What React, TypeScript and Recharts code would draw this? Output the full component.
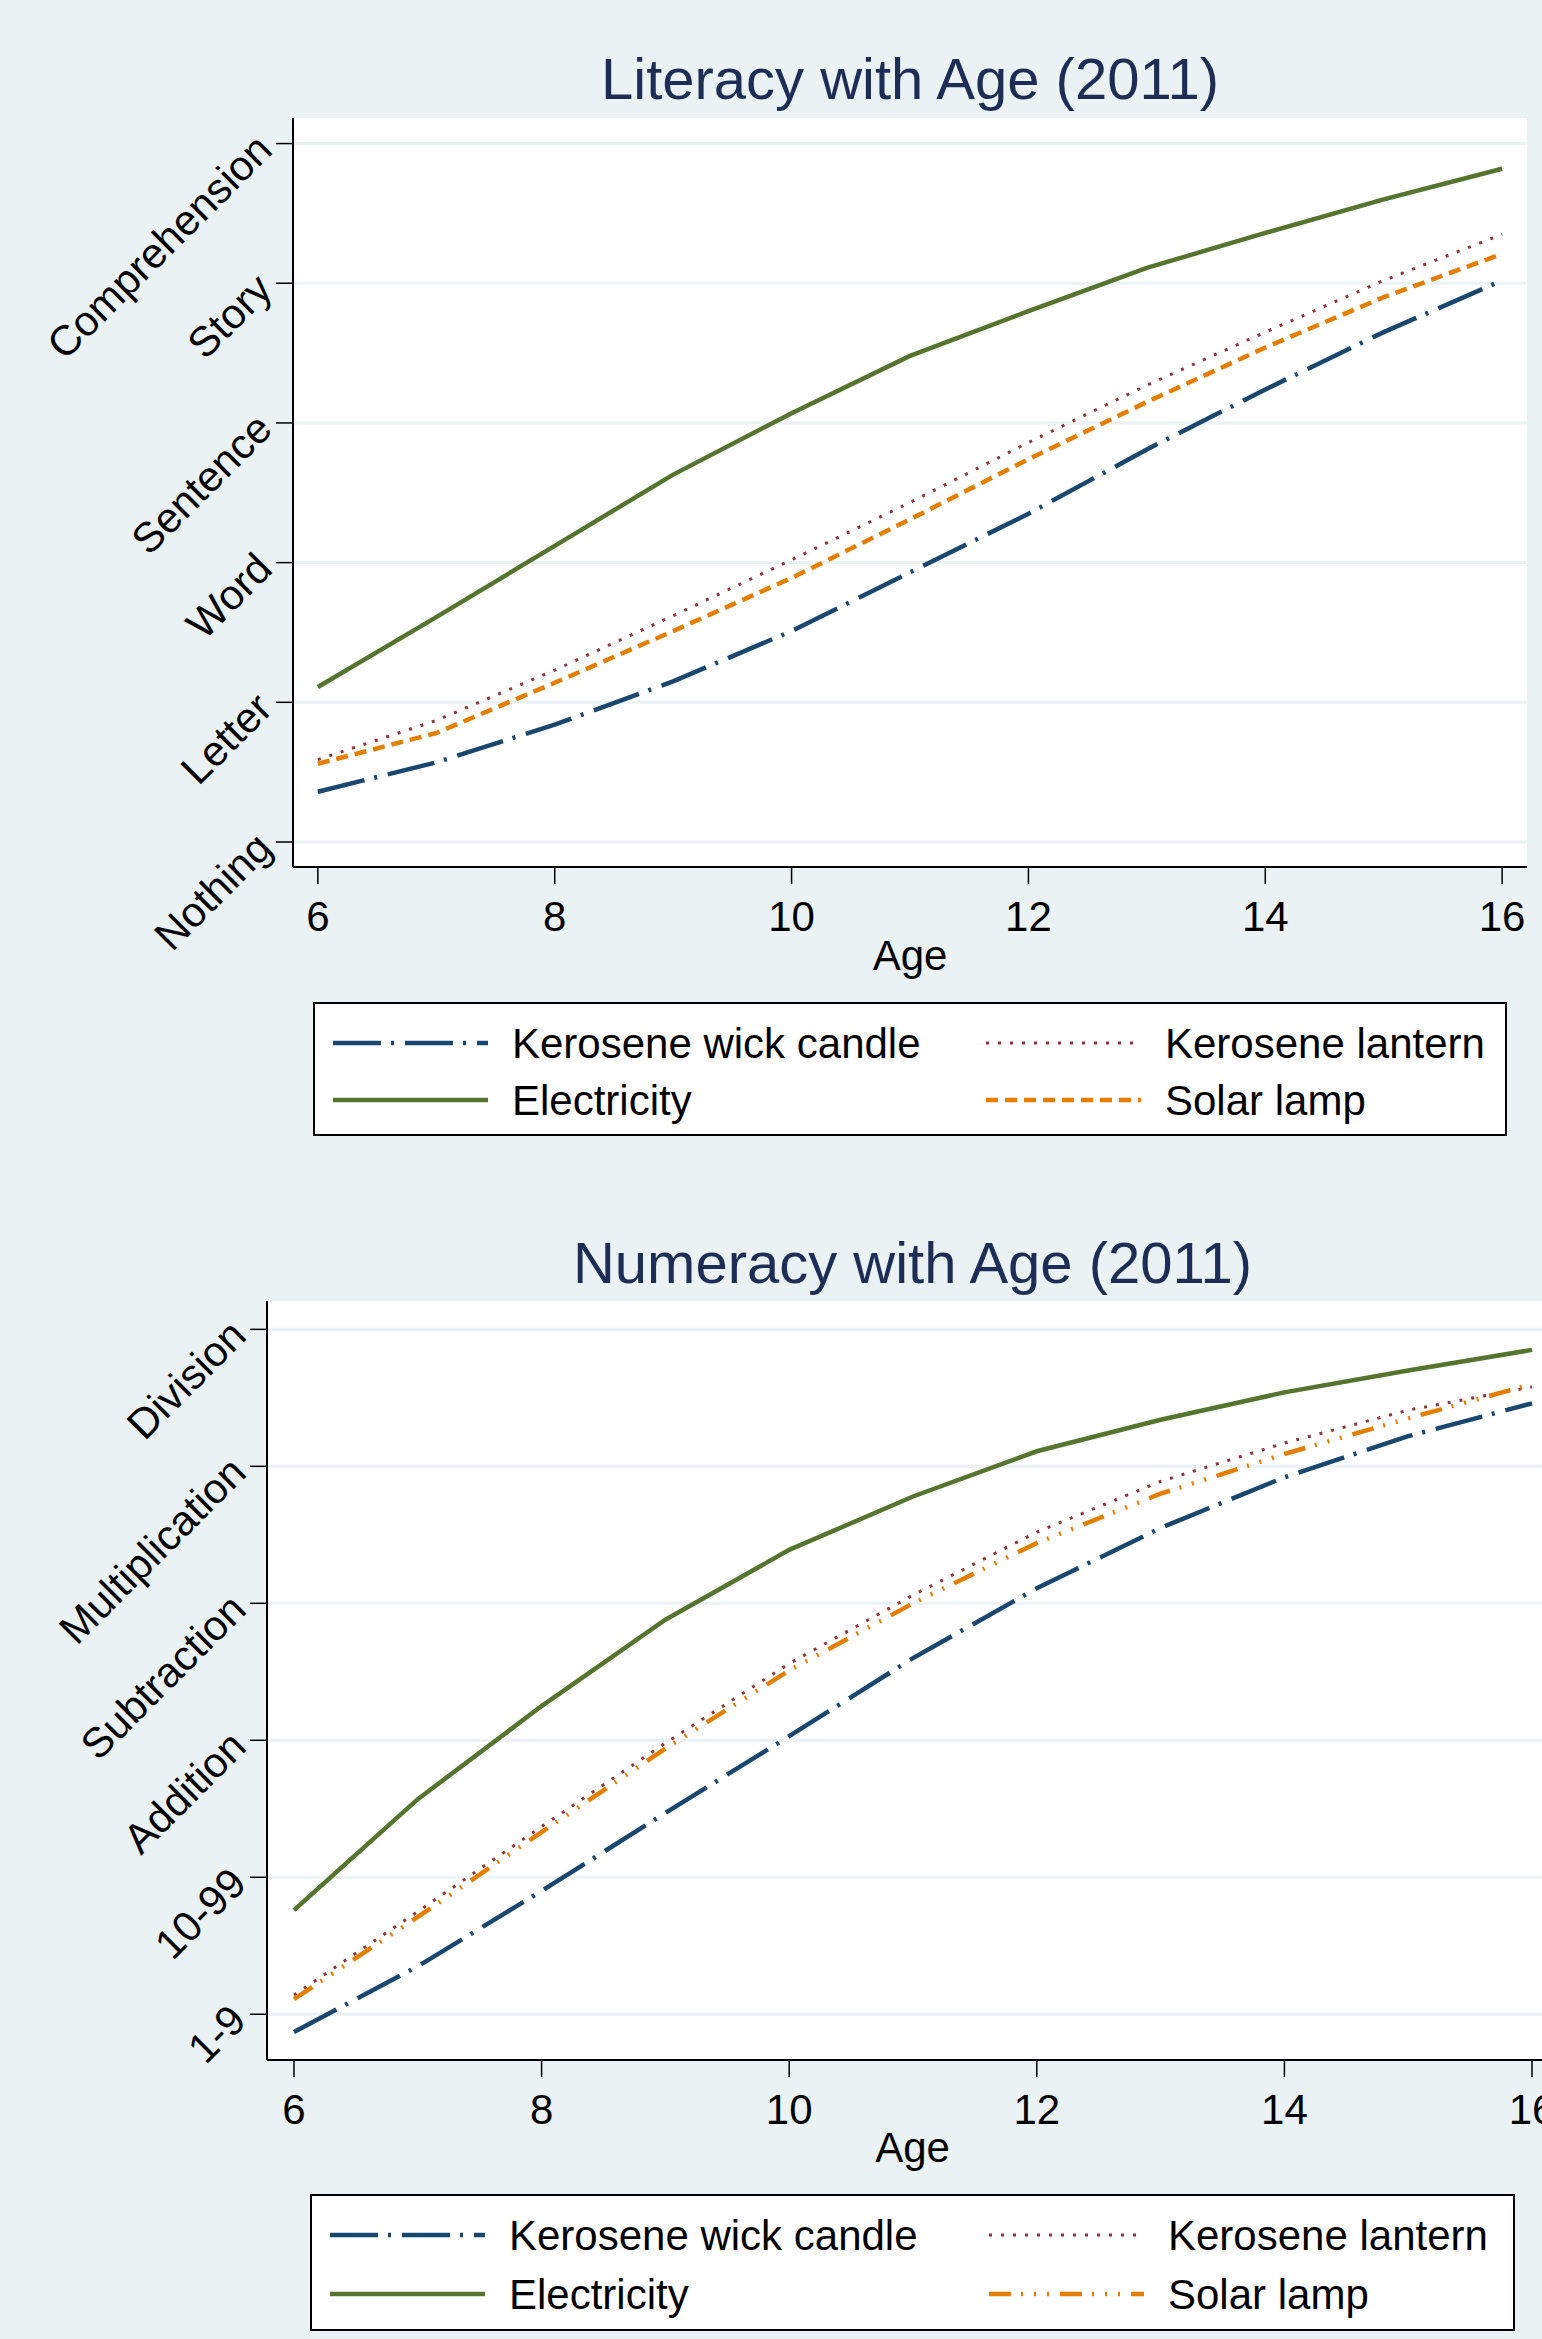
import { LineChart, Line, XAxis, YAxis, CartesianGrid, Legend } from "recharts";

const BG = "#eaf2f3";
const FONT = '"Liberation Sans", Arial, sans-serif';
const TITLE_COLOR = "#1e2d56";

const AGES = [6, 7, 8, 9, 10, 11, 12, 13, 14, 15, 16];
const AGE_TICKS = [6, 8, 10, 12, 14, 16];
const LEVEL_TICKS = [0, 1, 2, 3, 4, 5];

const LITERACY_LEVELS = ["Nothing", "Letter", "Word", "Sentence", "Story", "Comprehension"];
const litWick = [0.36, 0.57, 0.84, 1.15, 1.51, 1.93, 2.35, 2.81, 3.24, 3.65, 4.02];
const litLantern = [0.59, 0.87, 1.23, 1.62, 2.02, 2.43, 2.86, 3.27, 3.65, 4.02, 4.35];
const litElectricity = [1.11, 1.61, 2.12, 2.63, 3.07, 3.48, 3.8, 4.11, 4.36, 4.6, 4.82];
const litSolar = [0.56, 0.78, 1.14, 1.51, 1.89, 2.31, 2.74, 3.15, 3.54, 3.9, 4.21];

const NUMERACY_LEVELS = ["1-9", "10-99", "Addition", "Subtraction", "Multiplication", "Division"];
const numWick = [-0.13, 0.35, 0.9, 1.47, 2.03, 2.6, 3.11, 3.55, 3.92, 4.22, 4.46];
const numLantern = [0.14, 0.75, 1.37, 1.98, 2.56, 3.06, 3.52, 3.89, 4.17, 4.41, 4.58];
const numElectricity = [0.76, 1.57, 2.25, 2.88, 3.39, 3.78, 4.11, 4.34, 4.54, 4.7, 4.85];
const numSolar = [0.11, 0.71, 1.33, 1.94, 2.51, 3.0, 3.44, 3.8, 4.09, 4.35, 4.6];

type Series = { key: string; name: string; color: string; width: number; dash?: string };

// legend order is row-wise: wick | lantern / electricity | solar
const literacySeries: Series[] = [
  { key: "wick", name: "Kerosene wick candle", color: "#1a476f", width: 4.5, dash: "48 10 3 11" },
  { key: "lantern", name: "Kerosene lantern", color: "#90353b", width: 3, dash: "3 9" },
  { key: "electricity", name: "Electricity", color: "#55752f", width: 4.5 },
  { key: "solar", name: "Solar lamp", color: "#e37e00", width: 4.5, dash: "12 7" },
];
const numeracySeries: Series[] = literacySeries.map((s) =>
  s.key === "solar" ? { ...s, dash: "22 10 2 11 2 11 2 11" } : s
);

const literacyData = AGES.map((age, i) => ({
  age,
  wick: litWick[i],
  lantern: litLantern[i],
  electricity: litElectricity[i],
  solar: litSolar[i],
}));
const numeracyData = AGES.map((age, i) => ({
  age,
  wick: numWick[i],
  lantern: numLantern[i],
  electricity: numElectricity[i],
  solar: numSolar[i],
}));

function YTick(props: any) {
  const { x, y, payload, labels } = props;
  const ax = x - 12;
  const ay = y - 2;
  return (
    <text
      x={ax}
      y={ay}
      dy="0.35em"
      textAnchor="end"
      fontSize={42}
      fontFamily={FONT}
      fill="#000"
      transform={`rotate(-45 ${ax} ${ay})`}
    >
      {labels[payload.value]}
    </text>
  );
}

function XTick(props: any) {
  const { x, y, payload } = props;
  return (
    <text x={x} y={y + 47} textAnchor="middle" fontSize={42} fontFamily={FONT} fill="#000">
      {payload.value}
    </text>
  );
}

function AxisTitle({ cx, cy }: { cx: number; cy: number }) {
  return (
    <text x={cx} y={cy} textAnchor="middle" fontSize={42} fontFamily={FONT} fill="#000">
      Age
    </text>
  );
}

function LegendBox({ series, box }: { series: Series[]; box: any }) {
  return (
    <div
      style={{
        position: "relative",
        width: box.width,
        height: box.height,
        boxSizing: "border-box",
        border: "2px solid #000",
        background: "#fff",
        fontFamily: FONT,
      }}
    >
      {series.map((s, i) => {
        const col = i % 2;
        const row = Math.floor(i / 2);
        const lineY = box.rows[row];
        return (
          <div key={s.key}>
            <svg
              width={155}
              height={12}
              style={{ position: "absolute", left: box.sampleX[col], top: lineY - 6 }}
            >
              <line
                x1={0}
                y1={6}
                x2={155}
                y2={6}
                stroke={s.color}
                strokeWidth={s.width}
                strokeDasharray={s.dash}
              />
            </svg>
            <span
              style={{
                position: "absolute",
                left: box.textX[col],
                top: lineY - 20,
                fontSize: 42,
                lineHeight: "42px",
                color: "#000",
                whiteSpace: "nowrap",
              }}
            >
              {s.name}
            </span>
          </div>
        );
      })}
    </div>
  );
}

interface PanelProps {
  top: number;
  width: number;
  height: number;
  plot: { left: number; top: number; right: number; bottom: number };
  xDomain: number[];
  yDomain: number[];
  levels: string[];
  data: any[];
  series: Series[];
  title: string;
  titleBaseline: number;
  ageBaseline: number;
  legend: any;
}

function Panel(p: PanelProps) {
  const axisW = 60;
  const axisH = 60;
  const margin = {
    top: p.plot.top,
    left: p.plot.left - axisW,
    right: p.width - p.plot.right,
    bottom: p.height - p.plot.bottom - axisH,
  };
  const cx = (p.plot.left + p.plot.right) / 2;
  return (
    <div style={{ position: "absolute", left: 0, top: p.top, width: p.width, height: p.height }}>
      <div
        style={{
          position: "absolute",
          left: cx - 600,
          width: 1200,
          top: p.titleBaseline - 0.8465 * 58,
          textAlign: "center",
          fontSize: 58,
          lineHeight: "58px",
          color: TITLE_COLOR,
          fontFamily: FONT,
        }}
      >
        {p.title}
      </div>
      <LineChart width={p.width} height={p.height} data={p.data} margin={margin}>
        <CartesianGrid
          vertical={false}
          fill="#fff"
          stroke={BG}
          strokeWidth={3}
          horizontalValues={LEVEL_TICKS}
        />
        <XAxis
          dataKey="age"
          type="number"
          domain={p.xDomain}
          allowDataOverflow
          ticks={AGE_TICKS}
          interval={0}
          height={axisH}
          tickSize={17}
          tickMargin={0}
          axisLine={{ stroke: "#000", strokeWidth: 2 }}
          tickLine={{ stroke: "#000", strokeWidth: 1.5 }}
          tick={<XTick />}
          label={<AxisTitle cx={cx} cy={p.ageBaseline} />}
        />
        <YAxis
          type="number"
          domain={p.yDomain}
          allowDataOverflow
          ticks={LEVEL_TICKS}
          interval={0}
          width={axisW}
          tickSize={17}
          tickMargin={0}
          axisLine={{ stroke: "#000", strokeWidth: 2 }}
          tickLine={{ stroke: "#000", strokeWidth: 1.5 }}
          tick={(props: any) => <YTick {...props} labels={p.levels} />}
        />
        {p.series.map((s) => (
          <Line
            key={s.key}
            dataKey={s.key}
            name={s.name}
            type="linear"
            stroke={s.color}
            strokeWidth={s.width}
            strokeDasharray={s.dash}
            dot={false}
            activeDot={false}
            isAnimationActive={false}
          />
        ))}
        <Legend
          layout="vertical"
          align="center"
          verticalAlign="middle"
          wrapperStyle={{ left: p.legend.left, top: p.legend.top, width: p.legend.width, height: p.legend.height }}
          content={() => <LegendBox series={p.series} box={p.legend} />}
        />
      </LineChart>
    </div>
  );
}

export default function App() {
  return (
    <div
      style={{
        position: "absolute",
        left: 0,
        top: 0,
        width: 1542,
        height: 2339,
        overflow: "hidden",
        background: BG,
        fontFamily: FONT,
      }}
    >
      <Panel
        top={0}
        width={1542}
        height={1160}
        plot={{ left: 293, top: 118, right: 1527, bottom: 867 }}
        xDomain={[5.79, 16.21]}
        yDomain={[-0.179, 5.183]}
        levels={LITERACY_LEVELS}
        data={literacyData}
        series={literacySeries}
        title="Literacy with Age (2011)"
        titleBaseline={99}
        ageBaseline={970}
        legend={{
          left: 313,
          top: 1002,
          width: 1194,
          height: 134,
          rows: [39, 96],
          sampleX: [18, 671],
          textX: [197, 850],
        }}
      />
      <Panel
        top={1160}
        width={1600}
        height={1179}
        plot={{ left: 267, top: 141, right: 1558, bottom: 900 }}
        xDomain={[5.782, 16.21]}
        yDomain={[-0.334, 5.207]}
        levels={NUMERACY_LEVELS}
        data={numeracyData}
        series={numeracySeries}
        title="Numeracy with Age (2011)"
        titleBaseline={123}
        ageBaseline={1002}
        legend={{
          left: 310,
          top: 1034,
          width: 1205,
          height: 137,
          rows: [39, 98],
          sampleX: [18, 677],
          textX: [197, 856],
        }}
      />
    </div>
  );
}
